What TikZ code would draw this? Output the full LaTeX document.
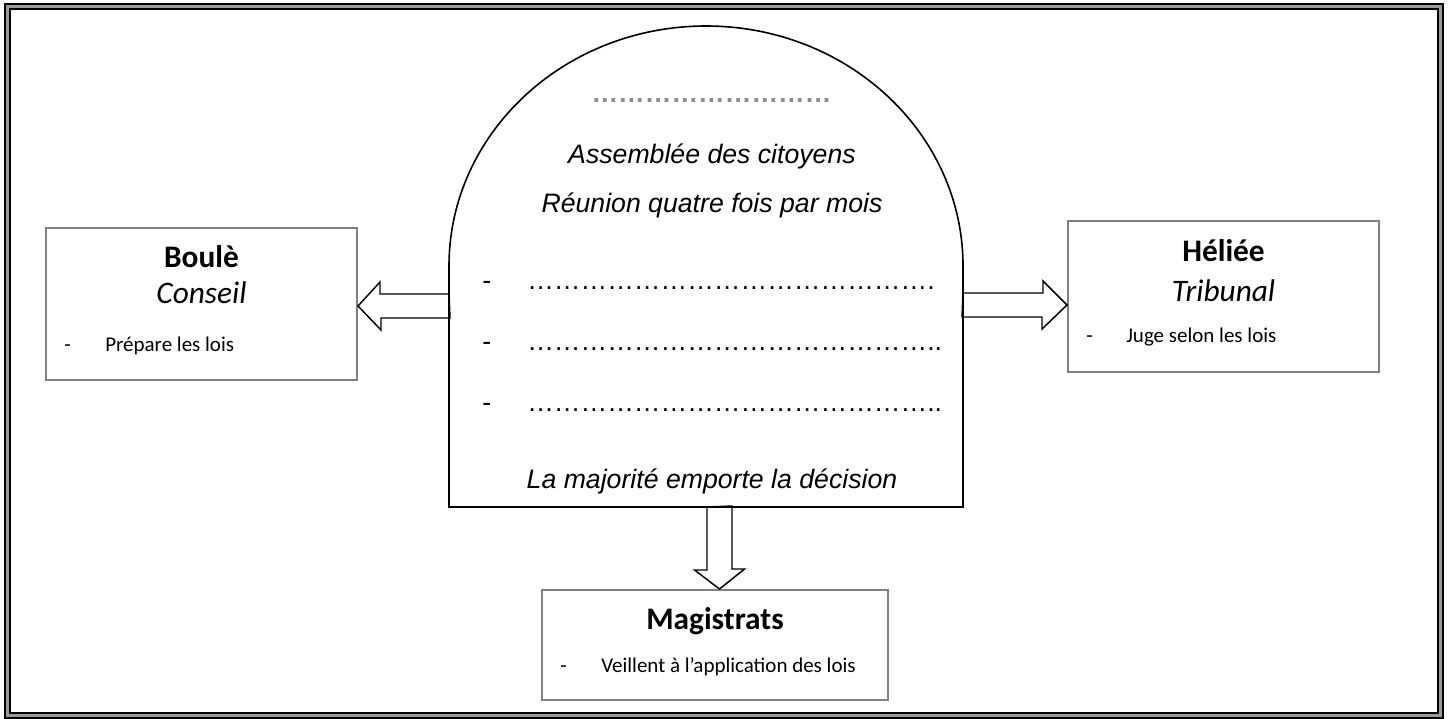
\documentclass[tikz,border=0pt]{standalone}
\usepackage{fontspec}
\setmainfont{Carlito}
\newfontfamily\arialfont{Liberation Sans}
\usetikzlibrary{calc}
\newcommand\pointilles[1]{\foreach \i in {1,...,#1}{…}}
\tikzset{
  boite/.style={draw=black!50,line width=1.5pt,minimum width=233.25pt,minimum height=114pt,inner sep=0pt},
  titre/.style={font=\fontsize{23.5}{28}\selectfont\bfseries,anchor=base,inner sep=0pt},
  soustitre/.style={font=\fontsize{23.5}{28}\selectfont\itshape,anchor=base,inner sep=0pt},
  puce/.style={font=\fontsize{15.75}{19}\selectfont,anchor=base west,inner sep=0pt},
  assemblee/.style={font=\arialfont\fontsize{20}{24}\selectfont\itshape,anchor=base,inner sep=0pt},
  ligne/.style={font=\arialfont\fontsize{20}{24}\selectfont,anchor=base west,inner sep=0pt},
  fleche/.style={draw,line width=1.1pt,fill=white,line join=miter}
}
\begin{document}
\begin{tikzpicture}[x=0.75pt,y=-0.75pt]
  \useasboundingbox (0,0) rectangle (1448,718);
  \draw[line width=1.5pt,double=black!40,double distance=2.25pt] (7.75,6.75) rectangle (1440,715.5);

  % les trois organes
  \node[boite] (boule) at (201.5,304) {};
  \node[boite,minimum height=113.25pt] (heliee) at (1223.5,296.5) {};
  \node[boite,minimum width=259.5pt,minimum height=82.5pt] (magistrats) at (715,645) {};

  \node[titre] (bouleT) at ($(boule.north)+(0,40)$) {Boulè};
  \node[soustitre] (bouleS) at ($(boule.north)+(0,76)$) {Conseil};
  \node[puce] (bouleP) at ($(boule.north west)+(19,124)$) {-};
  \node[puce] (bouleL) at ($(boule.north west)+(60,124)$) {Prépare les lois};

  \node[titre] (helieeT) at ($(heliee.north)+(0,41)$) {Héliée};
  \node[soustitre] (helieeS) at ($(heliee.north)+(0,81)$) {Tribunal};
  \node[puce] (helieeP) at ($(heliee.north west)+(19,122)$) {-};
  \node[puce] (helieeL) at ($(heliee.north west)+(59,122)$) {Juge selon les lois};

  \node[titre] (magistratsT) at ($(magistrats.north)+(0,40)$) {Magistrats};
  \node[puce] (magistratsP) at ($(magistrats.north west)+(19,83)$) {-};
  \node[puce] (magistratsL) at ($(magistrats.north west)+(60,83)$) {Veillent à l’application des lois};

  % assemblee
  \coordinate (archW) at (449,306);
  \coordinate (archE) at (963,305);
  \coordinate (archS) at (719.5,507);
  \draw[fleche] (archW) ++(0,-12) -- ++(-69,0) -- ++(0,-12) -- (boule.east |- archW) -- ++(23,24) -- ++(0,-12) -- ++(69,0) -- cycle;
  \draw[fleche] (archE) ++(0,-12) -- ++(80,0) -- ++(0,-12) -- (heliee.west |- archE) -- ++(-25,24) -- ++(0,-12) -- ++(-80,0) -- cycle;
  \draw[fleche] (archS) ++(-12.5,0) -- ++(0,63) -- ++(-12.5,0) -- (archS |- magistrats.north) -- ++(25,-20) -- ++(-12.5,0) -- ++(0,-63) -- cycle;
  \draw[line width=1.2pt] (449,507) -- (449,266) arc[start angle=180,end angle=0,x radius=192.75pt,y radius=180pt] -- (963,507) -- cycle;

  \node[assemblee,font=\arialfont\fontsize{20}{24}\selectfont\bfseries,text=black!45] (vide) at (711.5,102) {\pointilles{9}};
  \node[assemblee] (nom) at (712,163) {Assemblée des citoyens};
  \node[assemblee] (reunion) at (712,212) {Réunion quatre fois par mois};
  \foreach \y/\fin in {289/., 350/.., 411/..} {
    \node[ligne] at (482,\y) {-};
    \node[ligne] at (527,\y) {\pointilles{15}\fin};
  }
  \node[assemblee] (majorite) at (712,488) {La majorité emporte la décision};
\end{tikzpicture}
\end{document}
